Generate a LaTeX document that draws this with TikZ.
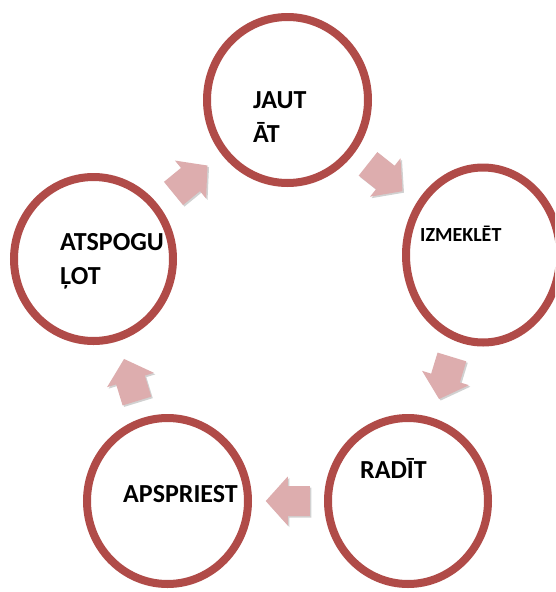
\documentclass[tikz,border=0pt]{standalone}
\usepackage{fontspec}
\setmainfont{Carlito}
\usetikzlibrary{shapes.geometric,calc}
\definecolor{ringred}{RGB}{176,75,72}
\definecolor{arrowpink}{RGB}{221,173,174}
\tikzset{
  ring/.style={ellipse, draw=ringred, line width=8pt, fill=white, inner sep=0pt},
  lbl/.style={anchor=base west, inner sep=0pt, font=\bfseries\fontsize{26}{30}\selectfont},
  lblsmall/.style={lbl, font=\bfseries\fontsize{20}{24}\selectfont},
  arrowshadow/.style={fill=black, fill opacity=0.18},
  arrowbody/.style={fill=arrowpink}
}
\newcommand{\cyclearrow}[2]{%
  \pgfmathanglebetweenpoints{\pgfpointanchor{#1}{center}}{\pgfpointanchor{#2}{center}}%
  \edef\arrang{\pgfmathresult}%
  \begin{scope}[shift={($(#1)!0.5!(#2)+(1.5,1.5)$)}, rotate=\arrang]
    \fill[arrowshadow] (22pt,0pt) -- (0pt,24.5pt) -- (0pt,15pt) -- (-22pt,15pt) -- (-22pt,-15pt) -- (0pt,-15pt) -- (0pt,-24.5pt) -- cycle;
  \end{scope}
  \begin{scope}[shift={($(#1)!0.5!(#2)$)}, rotate=\arrang]
    \fill[arrowbody] (22pt,0pt) -- (0pt,24.5pt) -- (0pt,15pt) -- (-22pt,15pt) -- (-22pt,-15pt) -- (0pt,-15pt) -- (0pt,-24.5pt) -- cycle;
  \end{scope}}
\begin{document}
\begin{tikzpicture}[x=1pt,y=-1pt]
\fill[white] (0,0) rectangle (555,592);
\useasboundingbox (0,0) rectangle (555,592);
\clip (0,0) rectangle (555,592);
% circles
\node[ring, minimum width=161pt, minimum height=166pt] (T) at (287.5,100) {};
\node[ring, minimum width=154pt, minimum height=175pt] (R) at (483,255) {};
\node[ring, minimum width=160pt, minimum height=166pt] (BR) at (408,501) {};
\node[ring, minimum width=161pt, minimum height=166pt] (BL) at (167.5,501) {};
\node[ring, minimum width=159pt, minimum height=164pt] (L) at (93.5,259) {};
% arrows
\cyclearrow{T}{R}
\cyclearrow{R}{BR}
\cyclearrow{BR}{BL}
\cyclearrow{BL}{L}
\cyclearrow{L}{T}
% labels
\node[lbl] (tT1) at (253,108) {JAUT};
\node[lbl] (tT2) at (253,142) {ĀT};
\node[lblsmall] (tR) at (420,241) {IZMEKLĒT};
\node[lbl] (tBR) at (360,478) {RADĪT};
\node[lbl] (tBL) at (123,502) {APSPRIEST};
\node[lbl] (tL1) at (60,250) {ATSPOGU};
\node[lbl] (tL2) at (60,284) {ĻOT};
\end{tikzpicture}
\end{document}
